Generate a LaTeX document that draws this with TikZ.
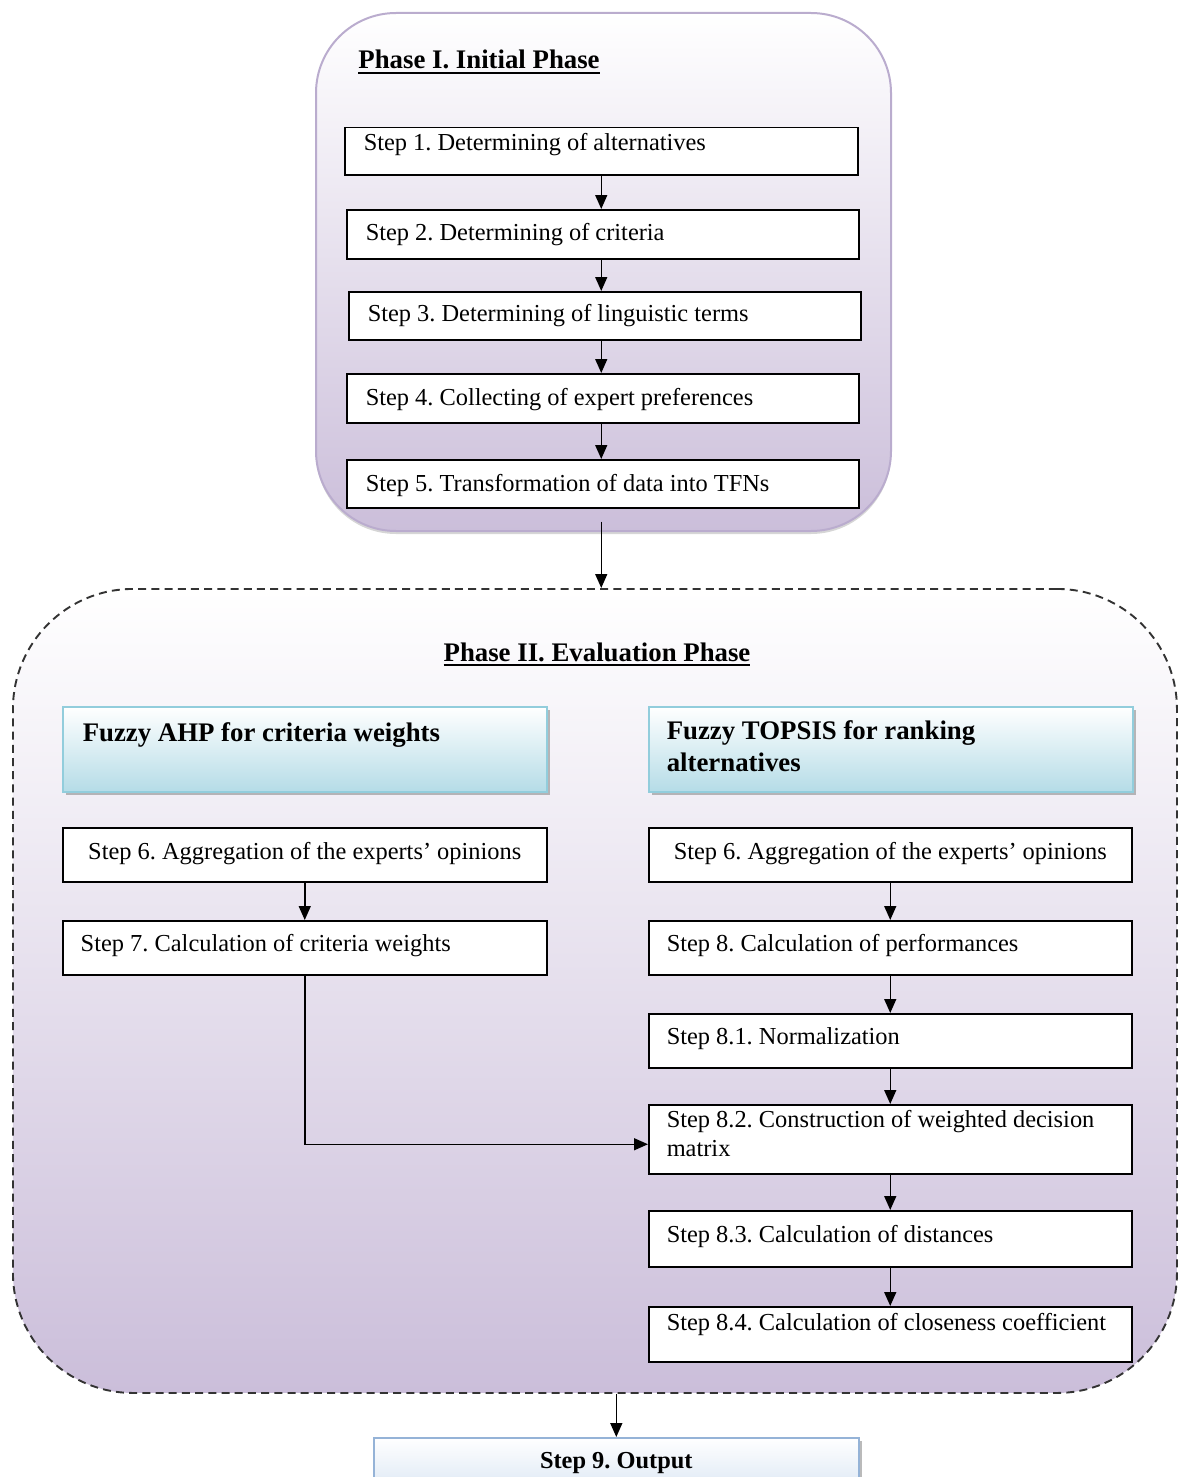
\documentclass[tikz,border=0pt]{standalone}
\usepackage{fontspec}
\setmainfont{Liberation Serif}
\usetikzlibrary{arrows.meta,calc,shadows}
\frenchspacing
\newdimen\pxu \pxu=0.5pt
\newcommand{\stepbody}[5]{\parbox[c][#2\pxu][t]{#1\pxu}{\raggedright\leftskip=#3\pxu\relax\rule{0pt}{#4\pxu}#5\par}}
\newcommand{\stepbodyc}[4]{\parbox[c][#2\pxu][t]{#1\pxu}{\centering\rule{0pt}{#3\pxu}#4\par}}
\newcommand{\ulin}[1]{\setbox0\hbox{#1}\rlap{\rule[-2.6pt]{\wd0}{0.9pt}}\box0}
\definecolor{lav}{RGB}{203,190,218}
\definecolor{lavborder}{RGB}{186,172,206}
\definecolor{hdrblue}{RGB}{181,220,231}
\definecolor{hdrborder}{RGB}{146,205,220}
\definecolor{outblue}{RGB}{200,218,238}
\definecolor{outborder}{RGB}{149,179,215}
\tikzset{
  stepbox/.style={draw=black, line width=0.75pt, fill=white, inner sep=0pt, anchor=north west,
    font=\fontsize{12.2}{14.5}\selectfont},
  hdrbox/.style={draw=hdrborder, line width=0.8pt, top color=white, bottom color=hdrblue,
    inner sep=0pt, anchor=north west, font=\fontsize{13.4}{16}\selectfont\bfseries,
    drop shadow={shadow xshift=1.5pt, shadow yshift=-1.5pt, fill=black!45, opacity=0.6}},
  outbox/.style={draw=outborder, line width=0.8pt, top color=white, bottom color=outblue,
    inner sep=0pt, anchor=north west, font=\fontsize{12.2}{14.5}\selectfont\bfseries,
    drop shadow={shadow xshift=1.5pt, shadow yshift=-1.5pt, fill=black!45, opacity=0.6}},
  phaseone/.style={draw=lavborder, line width=1pt, top color=white, bottom color=lav,
    rounded corners=40pt, inner sep=0pt, anchor=north west,
    drop shadow={shadow xshift=0pt, shadow yshift=-1.5pt, fill=black!40, opacity=0.4}},
  phasetwo/.style={draw=black!80, line width=0.95pt, dash pattern=on 4pt off 2.6pt,
    top color=white, bottom color=lav, rounded corners=60pt, inner sep=0pt, anchor=north west},
  ttl/.style={font=\fontsize{13.4}{16}\selectfont\bfseries, inner sep=0pt},
  arr/.style={draw=black, line width=0.75pt, -{Triangle[length=7pt,width=6pt]}}
}
\begin{document}
\begin{tikzpicture}[x=0.5pt,y=-0.5pt]
\useasboundingbox (0,0) rectangle (1178,1477);
% containers
\node[phaseone, minimum width=575\pxu, minimum height=518\pxu] (p1) at (315,12) {};
\node[phasetwo, minimum width=1164\pxu, minimum height=804\pxu] (p2) at (12,588) {};
% titles
\node[ttl, anchor=base west] (t1) at (358,69) {\ulin{Phase I. Initial Phase}};
\node[ttl, anchor=base] (t2) at (597,661) {\ulin{Phase II. Evaluation Phase}};
% phase I steps
\node[stepbox] (s1) at (344,127) {\stepbody{513}{47}{19}{23}{Step 1. Determining of alternatives}};
\node[stepbox] (s2) at (346,209) {\stepbody{512}{49}{19}{31}{Step 2. Determining of criteria}};
\node[stepbox] (s3) at (348,291) {\stepbody{512}{48}{19}{30}{Step 3. Determining of linguistic terms}};
\node[stepbox] (s4) at (346,373) {\stepbody{512}{49}{19}{32}{Step 4. Collecting of expert preferences}};
\node[stepbox] (s5) at (346,459) {\stepbody{512}{48}{19}{32}{Step 5. Transformation of data into TFNs}};
% headers
\node[hdrbox] (h1) at (62,706) {\stepbody{484}{85}{20}{35}{Fuzzy AHP for criteria weights}};
\node[hdrbox] (h2) at (648,706) {\stepbody{484}{85}{18}{33}{Fuzzy TOPSIS for ranking\\alternatives}};
% left column
\node[stepbox] (l6) at (62,827) {\stepbodyc{484}{54}{32}{Step 6. Aggregation of the experts’ opinions}};
\node[stepbox] (l7) at (62,920) {\stepbody{484}{54}{18}{31}{Step 7. Calculation of criteria weights}};
% right column
\node[stepbox] (r6) at (648,827) {\stepbodyc{483}{54}{32}{Step 6. Aggregation of the experts’ opinions}};
\node[stepbox] (s8) at (648,920) {\stepbody{483}{54}{18}{31}{Step 8. Calculation of performances}};
\node[stepbox] (s81) at (648,1013) {\stepbody{483}{54}{18}{31}{Step 8.1. Normalization}};
\node[stepbox] (s82) at (648,1104) {\stepbody{483}{69}{18}{23}{Step 8.2. Construction of weighted decision\\matrix}};
\node[stepbox] (s83) at (648,1210) {\stepbody{483}{56}{18}{32}{Step 8.3. Calculation of distances}};
\node[stepbox] (s84) at (648,1306) {\stepbody{483}{55}{18}{24}{Step 8.4. Calculation of closeness coefficient}};
% output
\node[outbox] (s9) at (373,1437) {\stepbodyc{485}{85}{31}{Step 9. Output}};
% connectors
\draw[arr] (s1.south) -- (s1.south |- s2.north);
\draw[arr] (s1.south |- s2.south) -- (s1.south |- s3.north);
\draw[arr] (s1.south |- s3.south) -- (s1.south |- s4.north);
\draw[arr] (s1.south |- s4.south) -- (s1.south |- s5.north);
\draw[arr] ($(s1.south |- s5.south)+(0,13)$) -- (s1.south |- p2.north);
\draw[arr] (l6.south) -- (l7.north);
\draw[arr] (l7.south) |- ([yshift=-2.5pt]s82.west);
\draw[arr] (r6.south) -- (s8.north);
\draw[arr] (s8.south) -- (s81.north);
\draw[arr] (s81.south) -- (s82.north);
\draw[arr] (s82.south) -- (s83.north);
\draw[arr] (s83.south) -- (s84.north);
\draw[arr] (s9.north |- p2.south) -- (s9.north);
\end{tikzpicture}
\end{document}
